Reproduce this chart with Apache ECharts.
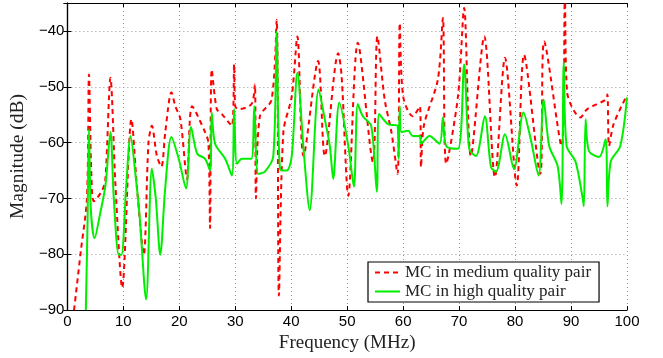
<!DOCTYPE html>
<html>
<head>
<meta charset="utf-8">
<script src="https://cdn.jsdelivr.net/npm/echarts@6/dist/echarts.min.js"></script>
<style>html,body{margin:0;padding:0;background:#fff}#c{width:663px;height:358px}</style>
</head>
<body>
<div id="c"></div>
<script>
// Frequency (MHz) and magnitude (dB) — MC in medium quality pair
const medFreq = [1.2,2.4,3.5,3.86,4.3,4.75,6.2,6.8,7.7,8.6,9.8,11.45,12.5,13.65,14.5,15.1,16.0,16.8,17.5,18.6,19.3,20.2,21.4,22.3,24.6,25.2,25.5,25.8,26.7,27.6,29.4,29.8,30.0,30.6,32.9,33.5,33.7,34.4,36.5,37.4,37.8,38.6,40.1,41.1,42.2,44.8,46.0,48.4,49.0,50.2,51.9,54.6,55.4,56.7,57.9,59.0,59.4,60.0,61.7,63.0,63.2,63.7,66.2,67.1,67.7,69.8,70.9,72.1,74.5,76.4,78.2,80.3,81.6,84.5,85.2,88.3,88.9,89.3,91.7,92.9,96.2,96.5,96.8,97.6,99.9];
const medMag = [-90,-79.5,-70,-47.8,-66,-70.5,-68.6,-66.5,-48.4,-67.7,-86,-55.8,-68.8,-80.1,-60,-57,-62.4,-64.3,-58.1,-51,-53.5,-55.8,-66.5,-53.5,-58.1,-60,-75.3,-46.9,-54,-54.9,-57,-46,-53.5,-54,-53.1,-49.6,-70,-55.3,-52.3,-38,-87.4,-58.1,-51.7,-41,-62.4,-45.4,-62.4,-44,-48,-69.5,-42.1,-63.5,-41,-52.3,-58.1,-65.6,-38.6,-51.7,-55.3,-53.5,-64.4,-57,-48.7,-37.7,-63.8,-51.7,-35.9,-62.4,-41,-66.2,-44.8,-67.7,-44.3,-65.6,-41.9,-60.6,-34,-51,-55.5,-54,-52.3,-51.4,-60.6,-56.7,-51.7];

// MC in high quality pair
const highFreq = [3.3,3.6,3.86,4.2,4.87,5.8,6.8,7.7,8.3,9.2,9.67,10.5,11.3,12.2,12.9,14.07,15.1,15.8,16.6,17.5,18.6,19.9,21.2,22.1,23.2,24.6,25.5,25.8,26.4,28.2,29.4,29.8,30.3,31.2,31.8,32.9,33.4,34.1,35.3,36.8,37.4,38.0,39.2,40.1,41.1,42.2,43.3,44.9,46.0,46.9,47.5,48.6,50.2,51.2,51.9,52.8,54.3,55.3,55.7,57.3,59.0,59.2,59.4,59.7,60.9,61.7,63.0,63.2,64.7,66.5,67.1,67.7,69.8,70.9,71.8,73.0,74.6,75.7,76.6,78.2,79.8,81.5,82.8,84.2,85.1,86.1,87.6,88.3,88.7,89.2,90.8,92.0,92.3,92.6,93.2,95.0,96.2,96.5,97.1,98.8,100];
const highMag = [-90,-75,-57.6,-72,-77.1,-73,-67.7,-58.1,-70,-80.1,-80.1,-68,-58.8,-66,-73,-88.1,-64.7,-70,-80.1,-68,-59,-62.9,-68.2,-57.2,-62,-62.9,-65,-54.6,-60.2,-62.9,-65.9,-54,-63.8,-62.9,-62.9,-62.9,-53.5,-65.6,-65.2,-62.4,-40.2,-64.7,-65,-62.4,-47.5,-61.1,-72.1,-50.5,-55.8,-60.6,-66.5,-52.8,-60.6,-67.9,-53.1,-55.3,-57,-68.8,-54.9,-56.7,-57,-62.9,-53.5,-58.1,-57.9,-58.8,-58.8,-60.2,-58.8,-60.2,-55.5,-60.6,-61.1,-46,-61.1,-62.4,-55.3,-64.4,-65.2,-58.5,-64.7,-54.6,-59.4,-65.9,-52.3,-60.6,-64.2,-71,-45.5,-60.6,-63.4,-69.5,-71.4,-55.8,-61.5,-62.6,-59.4,-71.4,-63.4,-60.6,-51.9];

const xTicks = [0,10,20,30,40,50,60,70,80,90,100];
const yTicks = [-90,-80,-70,-60,-50,-40];
const seriesNames = ['MC in medium quality pair','MC in high quality pair'];

const pair = (xs, ys) => xs.map((x, i) => [x, ys[i]]);
const fmt = v => (v < 0 ? '\u2212' + Math.abs(v) : String(v));
const sans = 'Liberation Sans';
const serif = 'Liberation Serif';
const grid = {type: [1, 3], color: '#999', width: 1};

const chart = echarts.init(document.getElementById('c'), null, {renderer: 'canvas'});
chart.setOption({
  animation: false,
  backgroundColor: '#fff',
  grid: {left: 65, right: 36, top: 3, bottom: 46, containLabel: false},
  legend: {
    left: 368, top: 262, orient: 'vertical',
    backgroundColor: '#fff', borderColor: '#000', borderWidth: 1.2, borderRadius: 0,
    padding: [2, 8, 2, 6], itemGap: 2, itemWidth: 25, itemHeight: 14,
    itemStyle: {opacity: 0},
    textStyle: {fontFamily: serif, fontSize: 17, color: '#222', lineHeight: 17},
    data: seriesNames
  },
  xAxis: [{
    type: 'value', min: xTicks[0], max: xTicks[xTicks.length - 1], interval: 10,
    name: 'Frequency (MHz)', nameLocation: 'middle', nameGap: 20,
    nameTextStyle: {fontFamily: serif, fontSize: 19, color: '#222'},
    axisLine: {lineStyle: {color: '#000', width: 1.2}},
    axisTick: {inside: true, length: 4, lineStyle: {color: '#000'}},
    axisLabel: {fontFamily: sans, fontSize: 15, color: '#000', margin: 4, formatter: fmt},
    splitLine: {show: true, lineStyle: grid}
  }, {
    type: 'value', position: 'top', min: xTicks[0], max: xTicks[xTicks.length - 1], interval: 10,
    axisLine: {show: true, lineStyle: {color: '#000', width: 1.2}},
    axisTick: {inside: true, length: 4, lineStyle: {color: '#000'}},
    axisLabel: {show: false}, splitLine: {show: false}
  }],
  yAxis: [{
    type: 'value', min: yTicks[0], max: -35, interval: 10,
    name: 'Magnitude (dB)', nameLocation: 'middle', nameGap: 32,
    nameTextStyle: {fontFamily: serif, fontSize: 19.5, color: '#222'},
    axisLine: {show: true, lineStyle: {color: '#000', width: 1.2}},
    axisTick: {inside: true, length: 4, lineStyle: {color: '#000'}},
    axisLabel: {fontFamily: sans, fontSize: 15, color: '#000', margin: 3, showMaxLabel: false,
      formatter: v => (yTicks.indexOf(v) >= 0 ? fmt(v) : '')},
    splitLine: {show: true, lineStyle: grid}
  }, {
    type: 'value', position: 'right', min: yTicks[0], max: -35, interval: 10,
    axisLine: {show: true, lineStyle: {color: '#000', width: 1.2}},
    axisTick: {inside: true, length: 4, lineStyle: {color: '#000'}},
    axisLabel: {show: false}, splitLine: {show: false}
  }],
  series: [{
    name: seriesNames[0], type: 'line', xAxisIndex: 0, yAxisIndex: 0,
    data: pair(medFreq, medMag), symbol: 'none', smooth: 0.3, clip: true,
    lineStyle: {color: '#ff0000', width: 2, type: [5, 4]}, itemStyle: {color: '#ff0000'}
  }, {
    name: seriesNames[1], type: 'line', xAxisIndex: 0, yAxisIndex: 0,
    data: pair(highFreq, highMag), symbol: 'none', smooth: 0.3, clip: true,
    lineStyle: {color: '#00ee00', width: 2, type: 'solid'}, itemStyle: {color: '#00ee00'}
  }]
});
</script>
</body>
</html>
